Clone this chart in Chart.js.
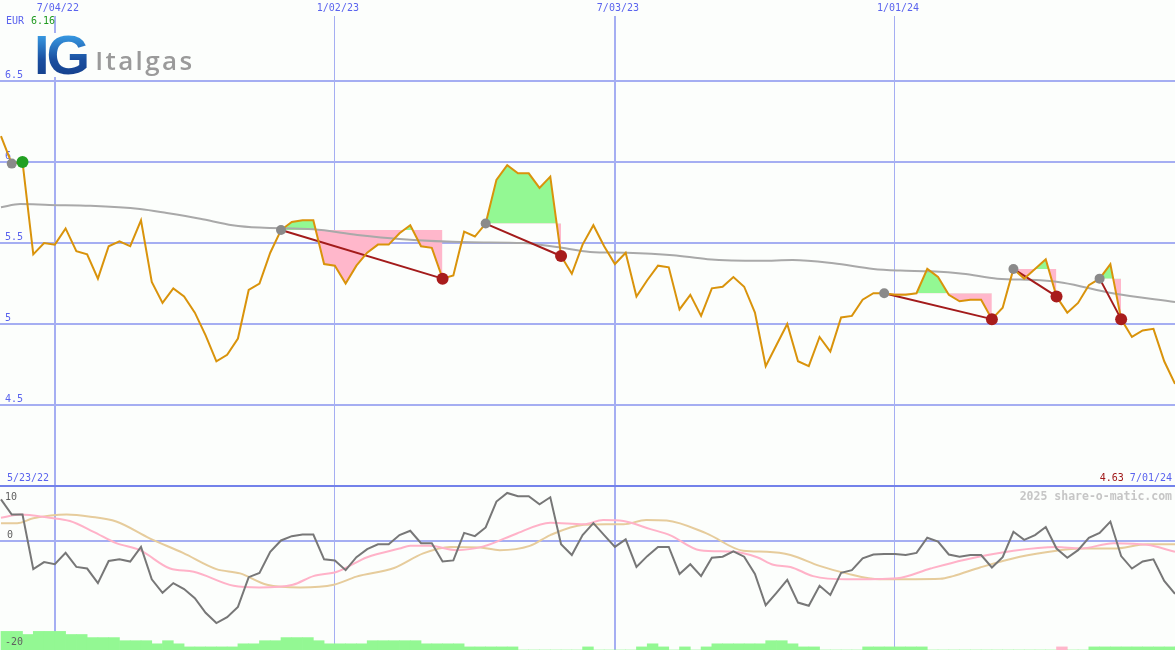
<!DOCTYPE html>
<html>
<head>
<meta charset="utf-8">
<title>Italgas</title>
<script src="https://cdn.jsdelivr.net/npm/chart.js@4.4.1/dist/chart.umd.min.js"></script>
<style>
  body { margin: 0; background: #fcfefc; }
  #wrap { position: relative; width: 1175px; height: 650px; overflow: hidden; background: #fcfefc; }
  #priceChart { position: absolute; left: 0; top: 0; }
  #oscChart { position: absolute; left: 0; top: 488px; }
  #logo { position: absolute; left: 34px; top: 33px; width: 164px; height: 44px; background: #fcfefc; white-space: nowrap; }
  #logo .ig { display: inline-block; font: bold 56px "Liberation Sans", Arial, sans-serif; line-height: 44px; letter-spacing: -3px;
    background: linear-gradient(#3aa0e8, #1a4fa0 60%, #143f8c); -webkit-background-clip: text; background-clip: text; color: transparent; }
  #logo .name { display: inline-block; font: 600 26px "Open Sans", sans-serif; color: #9a9a9a; letter-spacing: 2.4px; margin-left: 8px; vertical-align: top; line-height: 54px; }
</style>
</head>
<body>
<div id="wrap">
  <canvas id="priceChart" width="1175" height="488"></canvas>
  <canvas id="oscChart" width="1175" height="162"></canvas>
  <div id="logo"><span class="ig">IG</span><span class="name">Italgas</span></div>
</div>
<script>
// weekly closes, week 0 = 5/30/22 ... week 109 = 7/01/24
var weeks = [];
for (var i = 0; i < 110; i++) weeks.push(i);

var tickWeeks = [5, 31, 57, 83];
var tickLabels = ['7/04/22', '1/02/23', '7/03/23', '1/01/24'];
var priceTicks = [4, 4.5, 5, 5.5, 6, 6.5];
var startLabel = '5/23/22';
var endLabel = '7/01/24';

var price = [
  6.16, 5.99, 6.00, 5.43, 5.50, 5.49, 5.59, 5.45, 5.43, 5.28,
  5.48, 5.51, 5.48, 5.64, 5.26, 5.13, 5.22, 5.17, 5.07, 4.93,
  4.77, 4.81, 4.91, 5.21, 5.25, 5.44, 5.58, 5.63, 5.64, 5.64,
  5.37, 5.36, 5.25, 5.36, 5.44, 5.49, 5.49, 5.56, 5.61, 5.48,
  5.47, 5.28, 5.30, 5.57, 5.54, 5.62, 5.89, 5.98, 5.93, 5.93,
  5.84, 5.91, 5.42, 5.31, 5.49, 5.61, 5.48, 5.37, 5.44, 5.17,
  5.27, 5.36, 5.35, 5.09, 5.18, 5.05, 5.22, 5.23, 5.29, 5.23,
  5.07, 4.74, 4.87, 5.00, 4.77, 4.74, 4.92, 4.83, 5.04, 5.05,
  5.15, 5.19, 5.19, 5.18, 5.18, 5.19, 5.34, 5.29, 5.18, 5.14,
  5.15, 5.15, 5.03, 5.10, 5.34, 5.28, 5.34, 5.40, 5.17, 5.07,
  5.13, 5.24, 5.28, 5.37, 5.03, 4.92, 4.96, 4.97, 4.77, 4.63
];

// long moving average, read at a few weeks
var maWeeks = [0, 1.8, 4.5, 8.3, 12.9, 15.4, 18.5, 21.5, 24, 29, 33.1, 37, 43.5, 48.5, 51.6, 54.7,
  58.1, 62.4, 65.6, 70.5, 73.5, 77.3, 81, 83.5, 86.3, 89.3, 92.5, 96.5, 98.6, 103.2, 109];
var maValues = [5.72, 5.74, 5.735, 5.73, 5.71, 5.685, 5.65, 5.61, 5.595, 5.585, 5.55, 5.525, 5.505, 5.50, 5.475, 5.445,
  5.44, 5.425, 5.40, 5.39, 5.395, 5.375, 5.34, 5.33, 5.325, 5.31, 5.28, 5.27, 5.255, 5.19, 5.135];

// signals: [entry week, exit week]
var trades = [[1, 2], [26, 41], [45, 52], [82, 92], [94, 98], [102, 104]];

var osc = [
  7.7, 4.9, 4.9, -5.2, -3.9, -4.3, -2.2, -4.8, -5.1, -7.8,
  -3.7, -3.4, -3.8, -1.1, -7.1, -9.6, -7.8, -8.9, -10.6, -13.3,
  -15.2, -14.1, -12.2, -6.7, -5.9, -2.0, 0.1, 0.9, 1.2, 1.2,
  -3.4, -3.6, -5.4, -3.0, -1.5, -0.6, -0.6, 1.1, 1.9, -0.4,
  -0.4, -3.8, -3.6, 1.5, 0.9, 2.5, 7.3, 8.9, 8.3, 8.3,
  6.8, 8.1, -0.6, -2.6, 1.1, 3.3, 1.1, -1.1, 0.3, -4.8,
  -2.8, -1.1, -1.1, -6.1, -4.3, -6.5, -3.1, -2.9, -1.9, -2.9,
  -6.1, -11.9, -9.6, -7.2, -11.4, -12.0, -8.3, -10.0, -5.9, -5.4,
  -3.2, -2.5, -2.4, -2.4, -2.6, -2.2, 0.6, -0.1, -2.5, -2.9,
  -2.6, -2.6, -4.9, -3.0, 1.7, 0.2, 1.1, 2.6, -1.4, -3.1,
  -1.7, 0.6, 1.5, 3.6, -2.8, -5.1, -3.8, -3.4, -7.4, -9.8
];

var pinkWeeks = [0, 1.8, 4.5, 6.4, 8.6, 10.7, 12.9, 15.7, 17.9, 21.6, 24, 27.1, 29, 31.2, 34, 37,
  38, 39.8, 42.3, 44.8, 47.9, 51, 54.1, 55.9, 57.8, 60.3, 62.1, 64.9, 68, 70.2, 71.7, 73.3,
  75.4, 78.5, 83.2, 86.3, 89.4, 94, 98, 100.2, 103.3, 106.4, 109];
var pinkValues = [4.3, 4.9, 4.3, 3.7, 1.7, -0.4, -1.7, -5.1, -5.7, -8.3, -8.6, -8.1, -6.5, -5.7, -3.0, -1.4,
  -0.9, -0.9, -1.7, -1.0, 1.4, 3.4, 3.1, 3.9, 3.7, 2.2, 1.1, -1.7, -2.0, -3.0, -4.4, -4.8,
  -6.5, -7.1, -6.9, -5.1, -3.5, -1.8, -1.1, -1.4, -0.4, -0.7, -2.0];

var tanWeeks = [0, 1.5, 3, 6.1, 8.3, 10.7, 13.8, 16.9, 20, 22.2, 24.7, 27.8, 30.9, 33, 36.5,
  39.2, 41.7, 44.5, 46.3, 49.1, 51, 54.1, 56.2, 57.8, 59.9, 61.8, 65.5, 68.9, 71.1, 73.3,
  76, 78.5, 81.6, 87.2, 88.4, 90.9, 94.6, 98, 100.2, 103.3, 106.4, 109];
var tanValues = [3.3, 3.3, 4.2, 4.9, 4.5, 3.6, 0.5, -2.2, -5.2, -6.0, -8.1, -8.6, -8.1, -6.6, -5.0,
  -2.3, -1.1, -1.2, -1.7, -0.9, 1.1, 3.0, 3.1, 3.1, 3.9, 3.8, 1.4, -1.8, -2.0, -2.6,
  -4.6, -6.0, -7.1, -7.0, -6.5, -4.9, -2.9, -1.8, -1.4, -1.4, -0.6, -0.6];

// bottom histogram, sign gives colour
var flow = [
  6, 6, 5, 6, 6, 6, 5, 5, 4, 4,
  4, 3, 3, 3, 2, 3, 2, 1, 1, 1,
  1, 1, 2, 2, 3, 3, 4, 4, 4, 3,
  2, 2, 2, 2, 3, 3, 3, 3, 3, 2,
  2, 2, 2, 1, 1, 1, 1, 1, 0, 0,
  0, 0, 0, 0, 1, 0, 0, 0, 0, 1,
  2, 1, 0, 1, 0, 1, 2, 2, 2, 2,
  2, 3, 3, 2, 1, 1, 0, 0, 0, 0,
  1, 1, 1, 1, 1, 1, 0, 0, 0, 0,
  0, 0, 0, 0, 0, 0, 0, 0, -1, 0,
  0, 1, 1, 1, 1, 1, 1, 1, 1, 1
];

var blue = '#5a63ee';
var gridBlue = '#a5aef2';
var monoFont = '"DejaVu Sans Mono", monospace';

function xy(xs, ys) {
  return ys.map(function (v, i) { return { x: xs[i], y: v }; });
}

function noPad(s) {
  s.paddingLeft = 0; s.paddingRight = 0; s.paddingTop = 0; s.paddingBottom = 0;
}

var xMin = -0.09, xMax = 109;

// ---------- price panel ----------
var topSets = [];
topSets.push({
  data: xy(weeks, price), borderColor: '#d9930b', borderWidth: 2,
  pointRadius: 0, fill: false, order: 1
});
topSets.push({
  data: xy(maWeeks, maValues), borderColor: '#a9a9a9', borderWidth: 2,
  pointRadius: 0, fill: false, cubicInterpolationMode: 'monotone', order: 3
});

var dots = [], dotColors = [], dotRadius = [];
trades.forEach(function (t) {
  var a = t[0], b = t[1];
  var level = price[a];
  var win = price[b] > level;
  var segW = weeks.slice(a, b + 1);
  var lvlIndex = topSets.length;
  topSets.push({
    data: xy(segW, segW.map(function () { return level; })),
    borderColor: 'rgba(0,0,0,0)', borderWidth: 0, pointRadius: 0, fill: false, order: 6
  });
  topSets.push({
    data: xy(segW, price.slice(a, b + 1)),
    borderColor: 'rgba(0,0,0,0)', borderWidth: 0, pointRadius: 0, order: 5,
    fill: { target: lvlIndex, above: '#93f893', below: '#ffb7cb' }
  });
  topSets.push({
    data: [{ x: weeks[a], y: level }, { x: weeks[b], y: price[b] }],
    borderColor: win ? '#2a9a2a' : '#a31b1b', borderWidth: 2, pointRadius: 0, fill: false, order: 2
  });
  dots.push({ x: weeks[a], y: level });
  dotColors.push('#8a8a8a'); dotRadius.push(5);
  dots.push({ x: weeks[b], y: price[b] });
  dotColors.push(win ? '#22a022' : '#a81c1c'); dotRadius.push(6);
});
topSets.push({
  data: dots, showLine: false, pointRadius: dotRadius, pointBackgroundColor: dotColors,
  pointBorderWidth: 0, order: 0
});

var topText = {
  id: 'topText',
  afterDraw: function (chart) {
    var c = chart.ctx;
    c.save();
    c.font = '10px ' + monoFont;
    c.textBaseline = 'middle';
    c.textAlign = 'left';
    c.fillStyle = blue;
    c.fillText('EUR', 6, 21);
    c.fillStyle = '#1f9a1f';
    c.fillText(price[0].toFixed(2), 31, 21);
    c.fillStyle = blue;
    c.fillText(startLabel, 7, 478);
    c.textAlign = 'right';
    c.fillText(endLabel, 1172, 478);
    var w = c.measureText(endLabel + ' ').width;
    c.fillStyle = '#a01818';
    c.fillText(price[price.length - 1].toFixed(2), 1172 - w, 478);
    c.restore();
  }
};

new Chart(document.getElementById('priceChart'), {
  type: 'line',
  data: { datasets: topSets },
  options: {
    responsive: false,
    animation: false,
    events: [],
    layout: { padding: 0, autoPadding: false },
    plugins: { legend: { display: false }, tooltip: { enabled: false } },
    scales: {
      x: {
        type: 'linear', position: 'top', min: xMin, max: xMax, offset: false,
        afterBuildTicks: function (s) { s.ticks = tickWeeks.map(function (v) { return { value: v }; }); },
        afterFit: function (s) { s.height = 16; noPad(s); },
        ticks: {
          autoSkip: false, maxRotation: 0, padding: 2, labelOffset: 3, color: blue,
          font: { family: monoFont, size: 10 },
          callback: function (v) { return tickLabels[tickWeeks.indexOf(v)]; }
        },
        grid: {
          color: gridBlue, drawTicks: false, offset: false,
          lineWidth: function (c) { return c.index % 2 === 0 ? 2 : 1; }
        },
        border: { display: false }
      },
      y: {
        type: 'linear', min: 7 - 488 / 162, max: 7 - 16 / 162,
        afterBuildTicks: function (s) { s.ticks = priceTicks.map(function (v) { return { value: v }; }); },
        afterFit: function (s) { s.width = 0; noPad(s); },
        ticks: {
          mirror: true, padding: 5, labelOffset: -6, color: blue,
          font: { family: monoFont, size: 10 },
          callback: function (v) { return v === 4 ? '' : String(v); }
        },
        grid: {
          drawTicks: false, lineWidth: 2,
          color: function (c) { return c.tick && c.tick.value === 4 ? '#7382ea' : gridBlue; }
        },
        border: { display: false }
      }
    }
  },
  plugins: [topText]
});

// ---------- oscillator panel ----------
var oscText = {
  id: 'oscText',
  afterDraw: function (chart) {
    var c = chart.ctx, y = chart.scales.y;
    c.save();
    c.font = '10px ' + monoFont;
    c.textBaseline = 'middle';
    c.textAlign = 'left';
    c.fillStyle = '#606060';
    c.fillText('10', 5, y.getPixelForValue(10) + 10);
    c.fillText('0', 7, y.getPixelForValue(0) - 6);
    c.fillText('-20', 5, y.getPixelForValue(-20) - 7);
    c.font = 'bold 11.5px ' + monoFont;
    c.textAlign = 'right';
    c.fillStyle = '#c6c6c6';
    c.fillText('2025 share-o-matic.com', 1172, 9);
    c.restore();
  }
};

new Chart(document.getElementById('oscChart'), {
  type: 'line',
  data: {
    datasets: [
      {
        data: xy(weeks, osc), borderColor: '#777777', borderWidth: 2, pointRadius: 0, fill: false, order: 0
      },
      {
        data: xy(pinkWeeks, pinkValues), borderColor: '#ffb2c8', borderWidth: 2, pointRadius: 0,
        fill: false, cubicInterpolationMode: 'monotone', order: 1
      },
      {
        data: xy(tanWeeks, tanValues), borderColor: '#e6cc9c', borderWidth: 2, pointRadius: 0,
        fill: false, cubicInterpolationMode: 'monotone', order: 2
      },
      {
        type: 'bar', yAxisID: 'yv', order: 5, grouped: false,
        data: flow.map(function (v, i) { return { x: weeks[i] + 0.5, y: Math.abs(v) }; }),
        backgroundColor: flow.map(function (v) { return v < 0 ? '#ffb7cb' : '#93f893'; }),
        barPercentage: 1, categoryPercentage: 1, borderWidth: 0
      }
    ]
  },
  options: {
    responsive: false,
    animation: false,
    events: [],
    layout: { padding: 0, autoPadding: false },
    plugins: { legend: { display: false }, tooltip: { enabled: false } },
    scales: {
      x: {
        type: 'linear', min: xMin, max: xMax, offset: false,
        afterBuildTicks: function (s) { s.ticks = tickWeeks.map(function (v) { return { value: v }; }); },
        afterFit: function (s) { s.height = 0; noPad(s); },
        ticks: { display: false },
        grid: {
          color: gridBlue, drawTicks: false, offset: false,
          lineWidth: function (c) { return c.index % 2 === 0 ? 2 : 1; }
        },
        border: { display: false }
      },
      y: {
        type: 'linear', min: -109 / 5.4, max: 53 / 5.4,
        afterBuildTicks: function (s) { s.ticks = [{ value: 0 }]; },
        afterFit: function (s) { s.width = 0; noPad(s); },
        ticks: { display: false },
        grid: { color: gridBlue, lineWidth: 2, drawTicks: false },
        border: { display: false }
      },
      yv: { type: 'linear', display: false, min: 0, max: 162 / 3.1 }
    }
  },
  plugins: [oscText]
});
</script>
</body>
</html>
